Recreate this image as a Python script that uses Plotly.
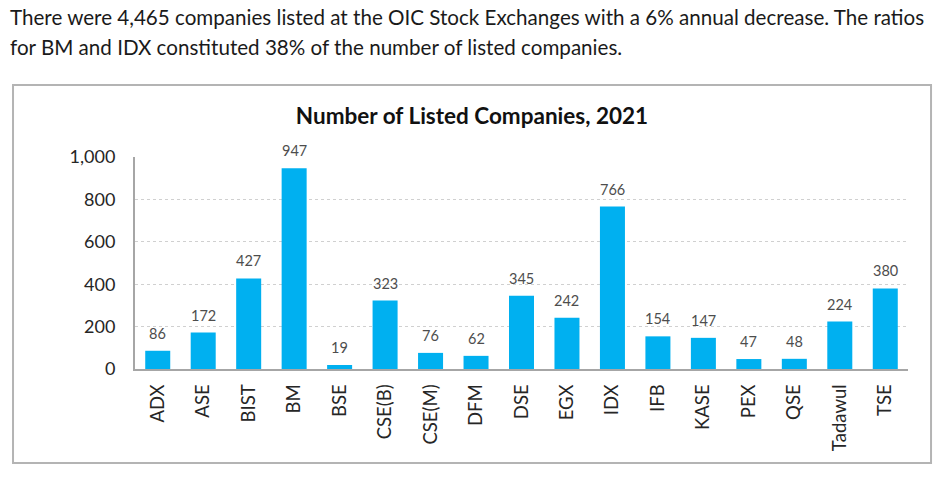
import plotly.graph_objects as go

exchanges = ["ADX", "ASE", "BIST", "BM", "BSE", "CSE(B)", "CSE(M)", "DFM", "DSE", "EGX",
             "IDX", "IFB", "KASE", "PEX", "QSE", "Tadawul", "TSE"]
listed_2021 = [86, 172, 427, 947, 19, 323, 76, 62, 345, 242, 766, 154, 147, 47, 48, 224, 380]
y_ticks = [0, 200, 400, 600, 800, 1000]
y_tick_labels = ["0", "200", "400", "600", "800", "1,000"]

title_text = "Number of Listed Companies, 2021"
intro_line1 = "There were 4,465 companies listed at the OIC Stock Exchanges with a 6% annual decrease. The ratios"
intro_line2 = "for BM and IDX constituted 38% of the number of listed companies."

FONT = "Lato"
BAR = "#00B0F0"

fig = go.Figure()
fig.add_trace(go.Bar(
    x=exchanges, y=listed_2021,
    marker=dict(color=BAR, line=dict(width=0)),
    hoverinfo="x+y",
))

annotations = []
for name, v in zip(exchanges, listed_2021):
    annotations.append(dict(
        x=name, y=v, xref="x", yref="y", text=str(v), showarrow=False,
        yanchor="bottom", yshift=7, font=dict(family=FONT, size=14.5, color="#4d4d4d"),
    ))

annotations.append(dict(
    x=-0.1643, y=1.660, xref="paper", yref="paper", text=intro_line1, showarrow=False,
    xanchor="left", yanchor="middle", font=dict(family=FONT, size=20.6, color="#1a1a1a"),
))
annotations.append(dict(
    x=-0.1643, y=1.519, xref="paper", yref="paper", text=intro_line2, showarrow=False,
    xanchor="left", yanchor="middle", font=dict(family=FONT, size=20.6, color="#1a1a1a"),
))

fig.update_layout(
    width=945, height=481,
    margin=dict(l=135, r=37, t=157, b=112),
    paper_bgcolor="white", plot_bgcolor="white",
    bargap=0.45,
    showlegend=False,
    title=dict(text=f"<b>{title_text}</b>", x=472 / 945, xref="container", xanchor="center",
               y=1 - 116 / 481, yref="container", yanchor="middle",
               font=dict(family=FONT, size=22.5, color="#111111")),
    annotations=annotations,
    shapes=[dict(type="rect", xref="paper", yref="paper",
                 x0=-0.1578, x1=1.0298, y0=-0.4434, y1=1.3396,
                 line=dict(color="#b4b4b4", width=2), fillcolor="rgba(0,0,0,0)", layer="below")],
)

fig.update_yaxes(
    range=[0, 1000], tickvals=y_ticks, ticktext=y_tick_labels,
    showgrid=True, gridcolor="#d0d0d0", griddash="dot", gridwidth=1,
    showline=True, linecolor="#a6a6a6", linewidth=2,
    zeroline=False, ticks="", ticklabelstandoff=14,
    tickfont=dict(family=FONT, size=18, color="#262626"),
)
fig.update_xaxes(
    showline=True, linecolor="#a6a6a6", linewidth=2,
    tickangle=-90, ticks="", ticklabelstandoff=6,
    tickfont=dict(family=FONT, size=18.5, color="#262626"),
    showgrid=False,
)

fig.write_html("out.html", config={"displayModeBar": False},
               post_script="document.body.style.margin='0';")
